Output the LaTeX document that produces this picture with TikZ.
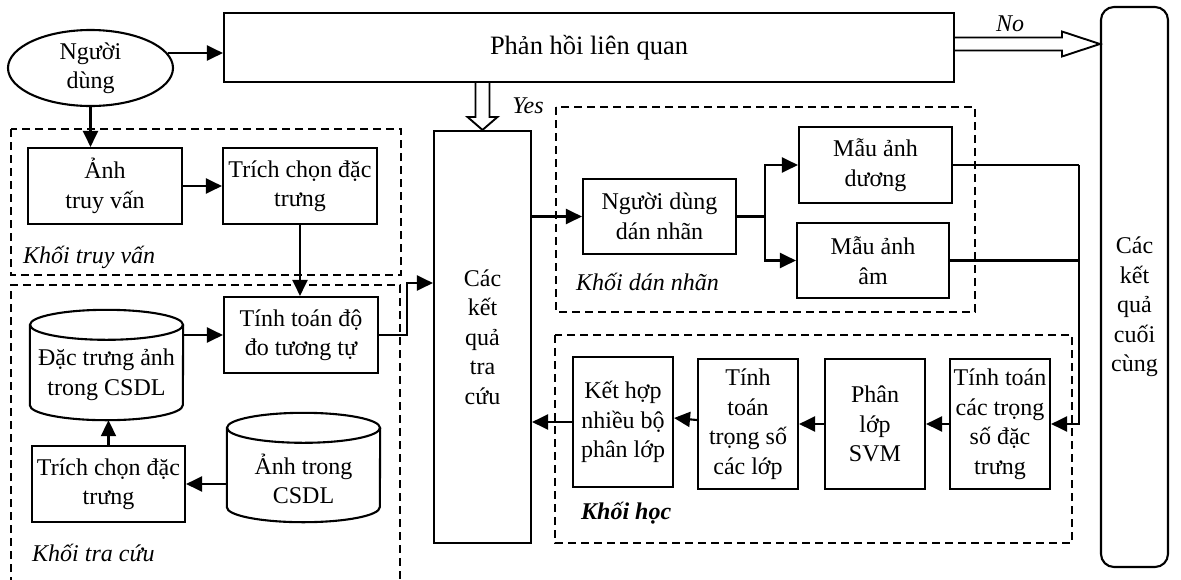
\documentclass[tikz,border=0pt]{standalone}
\usepackage{fontspec}
\setmainfont{Liberation Serif}
\usetikzlibrary{shapes.geometric,arrows.meta,calc}

\tikzset{
  every node/.style={font=\fontsize{24}{29.5}\selectfont},
  line/.style={line width=2.1pt},
  box/.style={line, draw, rectangle, align=center, inner sep=0pt},
  region/.style={line width=1.8pt, dash pattern=on 8pt off 5pt},
  arr/.style={line, -{Triangle[length=16pt,width=15pt]}},
  hollow/.style={line width=1.9pt, line join=miter},
  tag/.style={font=\fontsize{24}{29.5}\selectfont\itshape, anchor=west, inner sep=0pt},
  cyl/.style={rectangle, align=center, inner sep=0pt}
}

% database drum drawn around an invisible rectangular node
\newcommand{\drum}[1]{%
  \draw[line] ([yshift=-15pt]#1.north west) -- ([yshift=15pt]#1.south west)
    arc[start angle=180, end angle=360, x radius=76.5pt, y radius=15pt]
    -- ([yshift=-15pt]#1.north east);
  \draw[line] ([yshift=-15pt]#1.north) ellipse[x radius=76.5pt, y radius=15pt];}

\begin{document}
\begin{tikzpicture}[x=1pt, y=-1pt]
\useasboundingbox (0,0) rectangle (1181,579);

% ---- dashed regions
\draw[region] (11,129) rectangle (401,275);
\draw[region] (11,585) -- (11,285) -- (400,285) -- (400,585);
\draw[region] (556,107) rectangle (975,312);
\draw[region] (555,335) rectangle (1072,543);

\node[tag] (tq) at (23,257) {Khối truy vấn};
\node[tag] (tc) at (32,553) {Khối tra cứu};
\node[tag] (tl) at (576,282) {Khối dán nhãn};
\node[tag, font=\fontsize{24}{29.5}\selectfont\bfseries\itshape] (th) at (581,513) {Khối học};

% ---- main nodes
\node[line, draw, ellipse, minimum width=165, minimum height=76, inner sep=0pt, align=center]
  (user) at (90.5,68) {Người\\dùng};
\node[box, minimum width=730, minimum height=69, font=\fontsize{26.5}{31}\selectfont]
  (bar) at (589,47.5) {Phản hồi liên quan};

\node[box, minimum width=154, minimum height=76] (q1) at (105,186) {Ảnh\\truy vấn};
\node[box, minimum width=154, minimum height=76] (q2) at (300,186) {Trích chọn đặc\\trưng};
\node[box, minimum width=154, minimum height=76] (sim) at (301,335) {Tính toán độ\\đo tương tự};

\node[cyl, minimum width=153, minimum height=110] (db1) at (106.5,365) {};
\drum{db1}
\node[align=center, inner sep=0pt] (db1t) at (106.5,375) {Đặc trưng ảnh\\trong CSDL};

\node[box, minimum width=153, minimum height=76] (fx2) at (108.5,484) {Trích chọn đặc\\trưng};

\node[cyl, minimum width=153, minimum height=109] (db2) at (303.5,467.5) {};
\drum{db2}
\node[align=center, inner sep=0pt] (db2t) at (303.5,479) {Ảnh trong\\CSDL};

\node[box, minimum width=97, minimum height=412] (res) at (482.5,337) {Các\\kết\\quả\\tra\\cứu};

\node[box, minimum width=153, minimum height=75] (lab) at (659.5,216.5) {Người dùng\\dán nhãn};
\node[box, minimum width=153, minimum height=76] (pos) at (875.5,165) {Mẫu ảnh\\dương};
\node[box, minimum width=152, minimum height=75] (neg) at (873,260.5) {Mẫu ảnh\\âm};

\node[box, minimum width=100, minimum height=130] (fw) at (1000,424) {Tính toán\\các trọng\\số đặc\\trưng};
\node[box, minimum width=100, minimum height=130] (svm) at (875,424) {Phân\\lớp\\SVM};
\node[box, minimum width=100, minimum height=130] (cw) at (748,424) {Tính\\toán\\trọng số\\các lớp};
\node[box, minimum width=100, minimum height=130] (comb) at (623,422) {Kết hợp\\nhiều bộ\\phân lớp};

\node[line, draw, rectangle, rounded corners=13pt, minimum width=67, minimum height=560, inner sep=0pt]
  (fin) at (1134.5,287) {};
\node[align=center, inner sep=0pt] (fint) at (1134.5,307) {Các\\kết\\quả\\cuối\\cùng};

% ---- connectors
\draw[arr] (user.11) -- (user.11 -| bar.west);
\draw[arr] (user.south) -- (user.south |- q1.north);
\draw[arr] (q1.east) -- (q2.west);
\draw[arr] (q2.south) -- (q2.south |- sim.north);
\draw[arr] (sim.west -| db1.east) -- (sim.west);
\draw[arr] (fx2.north) -- (fx2.north |- db1.south);
\draw[arr] (fx2.east -| db2.west) -- (fx2.east);
\draw[arr] (sim.east) -- ++(28,0) |- ([yshift=54pt]res.west);

\draw[arr] (res.east |- lab.west) -- (lab.west);
\draw[line] (lab.east) -- ++(28,0) coordinate (br);
\draw[arr] (br) |- (pos.west);
\draw[arr] (br) |- (neg.west);

\draw[line] (pos.east) -- ++(126,0) coordinate (rtop);
\draw[line] (neg.east) -- (neg.east -| rtop);
\draw[arr] (rtop) |- (fw.east);

\draw[arr] (fw.west) -- (svm.east);
\draw[arr] (svm.west) -- (cw.east);
\draw[arr] ([yshift=4pt]cw.west) -- ([yshift=4pt]comb.east);
\draw[arr] (comb.west) -- (comb.west -| res.east);

% ---- hollow decision arrows
\coordinate (ys) at (res.north |- bar.south);
\draw[hollow] ([xshift=-7pt]ys) -- ([xshift=-7pt,yshift=13pt]res.north)
  -- ([xshift=-15pt,yshift=13pt]res.north) -- (res.north)
  -- ([xshift=15pt,yshift=13pt]res.north) -- ([xshift=7pt,yshift=13pt]res.north)
  -- ([xshift=7pt]ys);
\node[font=\fontsize{24}{29.5}\selectfont\itshape, inner sep=0pt] (yes) at (528,106) {Yes};

\coordinate (ns) at ([yshift=3.5pt]bar.east);
\coordinate (ne) at (ns -| fin.west);
\draw[hollow] ([yshift=6.5pt]ns) -- ([xshift=-38pt,yshift=6.5pt]ne)
  -- ([xshift=-38pt,yshift=12.5pt]ne) -- (ne)
  -- ([xshift=-38pt,yshift=-12.5pt]ne) -- ([xshift=-38pt,yshift=-6.5pt]ne)
  -- ([yshift=-6.5pt]ns);
\node[font=\fontsize{24}{29.5}\selectfont\itshape, inner sep=0pt] (no) at (1010,24) {No};
\end{tikzpicture}
\end{document}
